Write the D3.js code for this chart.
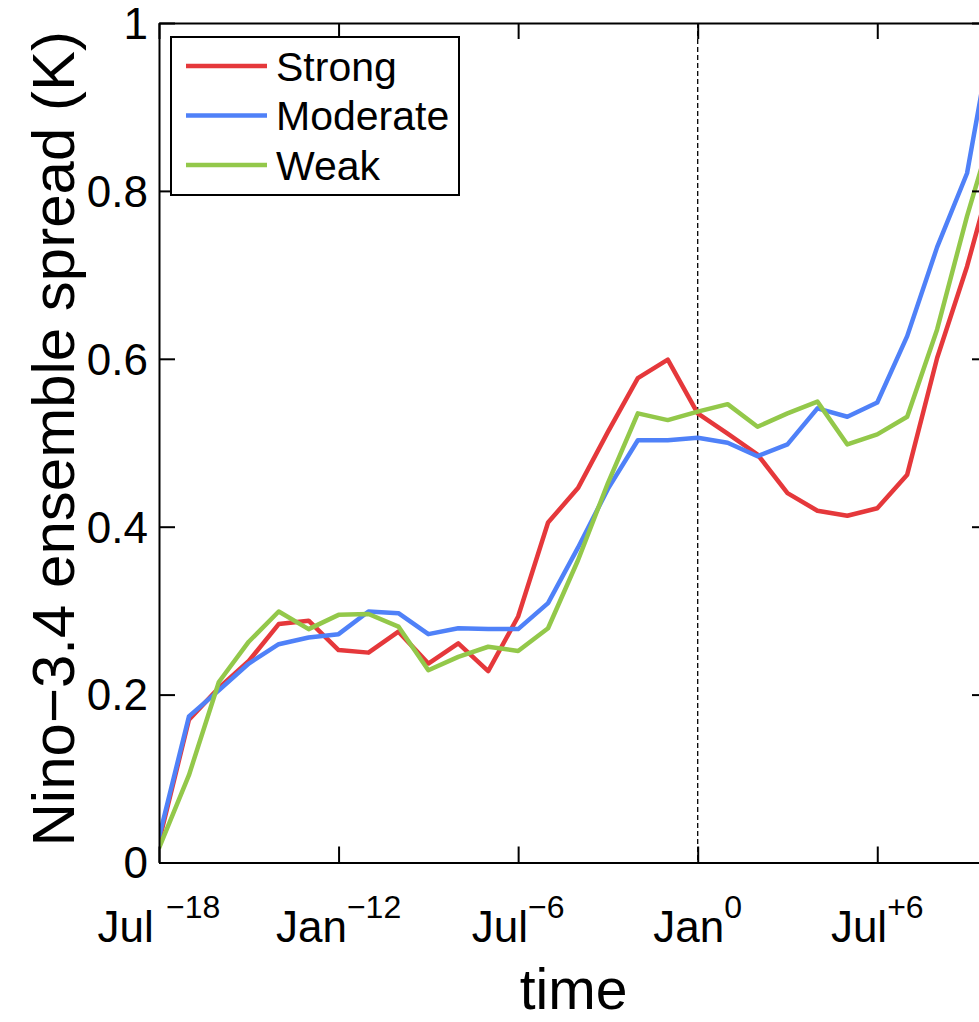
<!DOCTYPE html>
<html>
<head>
<meta charset="utf-8">
<script src="https://cdn.jsdelivr.net/npm/d3@7/dist/d3.min.js"></script>
<style>
  html, body { margin: 0; padding: 0; background: #fff; }
  svg { display: block; font-family: "Liberation Sans", Arial, Helvetica, sans-serif; }
</style>
</head>
<body>
<svg id="chart" width="979" height="1022"></svg>
<script>
// Months relative to January of year 0
const months = d3.range(-18, 11);

// Nino-3.4 ensemble spread (K) per event class
const strong = [0.025, 0.170, 0.208, 0.240, 0.284, 0.288, 0.253, 0.250, 0.275, 0.237,
                0.261, 0.228, 0.293, 0.405, 0.446, 0.513, 0.577, 0.599, 0.535, 0.511,
                0.486, 0.440, 0.419, 0.413, 0.422, 0.462, 0.601, 0.710, 0.840];
const moderate = [0.030, 0.174, 0.205, 0.237, 0.260, 0.268, 0.272, 0.299, 0.297, 0.272,
                  0.279, 0.278, 0.278, 0.309, 0.375, 0.445, 0.503, 0.503, 0.506, 0.500,
                  0.484, 0.498, 0.541, 0.531, 0.548, 0.627, 0.733, 0.821, 1.020];
const weak = [0.017, 0.104, 0.215, 0.263, 0.299, 0.278, 0.295, 0.296, 0.281, 0.229,
              0.245, 0.257, 0.252, 0.279, 0.360, 0.452, 0.535, 0.527, 0.537, 0.546,
              0.519, 0.535, 0.549, 0.498, 0.510, 0.531, 0.635, 0.770, 0.890];

const seriesNames = ["Strong", "Moderate", "Weak"];
const seriesColors = ["#e5383b", "#4f81f8", "#93c84a"];

// x tick labels: month name plus superscript year offset
const xTickValues = [-18, -12, -6, 0, 6];
const xTickMonth = ["Jul ", "Jan", "Jul", "Jan", "Jul"];
const xTickYear = ["\u221218", "\u221212", "\u22126", "0", "+6"];
const yTickValues = [0, 0.2, 0.4, 0.6, 0.8, 1];

const svg = d3.select("#chart");
const pLeft = 159, pRight = 988, pTop = 23, pBottom = 862.5;

const x = d3.scaleLinear().domain([-18, 9.7]).range([pLeft, pRight]);
const y = d3.scaleLinear().domain([0, 1]).range([pBottom, pTop]);

svg.append("defs").append("clipPath").attr("id", "plotClip")
  .append("rect").attr("x", pLeft).attr("y", pTop)
  .attr("width", pRight - pLeft).attr("height", pBottom - pTop);

// reference line at Jan of year 0
svg.append("line")
  .attr("x1", x(0)).attr("x2", x(0))
  .attr("y1", pTop).attr("y2", pBottom)
  .attr("stroke", "#000").attr("stroke-width", 1.3)
  .attr("stroke-dasharray", "5,3");

// data lines
const line = d3.line().x((d, i) => x(months[i])).y(d => y(d));
const seriesData = [strong, moderate, weak];
svg.append("g").attr("clip-path", "url(#plotClip)")
  .selectAll("path").data(seriesData).join("path")
  .attr("d", d => line(d))
  .attr("fill", "none")
  .attr("stroke", (d, i) => seriesColors[i])
  .attr("stroke-width", 4.5)
  .attr("stroke-linejoin", "round");

// axes box with inward ticks
function styleAxis(g) {
  g.selectAll("path.domain").attr("stroke", "#000").attr("stroke-width", 2);
  g.selectAll(".tick line").attr("stroke", "#000").attr("stroke-width", 2);
  g.selectAll(".tick text").remove();
}
svg.append("g").attr("transform", `translate(0,${pBottom})`)
  .call(d3.axisBottom(x).tickValues(xTickValues).tickSizeInner(-16).tickSizeOuter(0))
  .call(styleAxis);
svg.append("g").attr("transform", `translate(0,${pTop})`)
  .call(d3.axisTop(x).tickValues(xTickValues).tickSizeInner(-16).tickSizeOuter(0))
  .call(styleAxis);
svg.append("g").attr("transform", `translate(${pLeft},0)`)
  .call(d3.axisLeft(y).tickValues(yTickValues).tickSizeInner(-16).tickSizeOuter(0))
  .call(styleAxis);
svg.append("g").attr("transform", `translate(${pRight},0)`)
  .call(d3.axisRight(y).tickValues(yTickValues).tickSizeInner(-16).tickSizeOuter(0))
  .call(styleAxis);

// y tick labels
svg.append("g").selectAll("text").data(yTickValues).join("text")
  .attr("x", 148).attr("y", d => y(d)).attr("dy", "0.36em")
  .attr("text-anchor", "end").attr("font-size", 44)
  .text(d => d === 0 || d === 1 ? d3.format("d")(d) : d3.format(".1f")(d));

// x tick labels with superscripts
const xl = svg.append("g").selectAll("text").data(xTickValues).join("text")
  .attr("x", d => x(d)).attr("y", 942)
  .attr("text-anchor", "middle").attr("font-size", 44)
  .style("white-space", "pre");
xl.append("tspan").text((d, i) => xTickMonth[i]);
xl.append("tspan").attr("dy", -24).attr("font-size", 32)
  .text((d, i) => xTickYear[i]);

// axis titles
svg.append("text").attr("x", (pLeft + pRight) / 2).attr("y", 1009)
  .attr("text-anchor", "middle").attr("font-size", 57).text("time");
svg.append("text")
  .attr("transform", `translate(74,${(pTop + pBottom) / 2 - 4}) rotate(-90)`)
  .attr("text-anchor", "middle").attr("font-size", 60)
  .text("Nino\u22123.4 ensemble spread (K)");

// legend
const lg = svg.append("g");
lg.append("rect").attr("x", 171).attr("y", 37).attr("width", 288).attr("height", 158)
  .attr("fill", "#fff").attr("stroke", "#000").attr("stroke-width", 2);
const rows = lg.selectAll("g.row").data(seriesNames).join("g")
  .attr("class", "row")
  .attr("transform", (d, i) => `translate(0,${66 + i * 49.5})`);
rows.append("line").attr("x1", 186).attr("x2", 267)
  .attr("stroke", (d, i) => seriesColors[i]).attr("stroke-width", 4.5);
rows.append("text").attr("x", 276).attr("dy", "0.36em")
  .attr("font-size", 41).text(d => d);
</script>
</body>
</html>
